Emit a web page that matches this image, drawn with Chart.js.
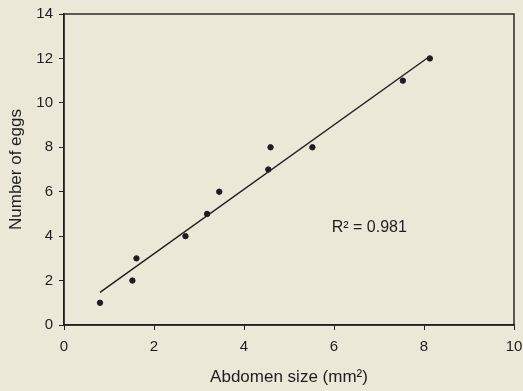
<!DOCTYPE html>
<html><head><meta charset="utf-8">
<script src="https://cdn.jsdelivr.net/npm/chart.js@4/dist/chart.umd.min.js"></script>
<style>html,body{margin:0;padding:0;background:#ebe8d8;}#wrap{width:523px;height:391px;}</style>
</head><body><div id="wrap"><canvas id="c" width="523" height="391"></canvas></div>
<script>
const abdomenSize = [0.8, 1.52, 1.61, 2.70, 3.18, 3.45, 4.54, 4.59, 5.52, 7.53, 8.13];
const eggCount    = [1, 2, 3, 4, 5, 6, 7, 8, 8, 11, 12];
const fitX = [0.8, 8.13];
const fitY = [1.47, 12.1];
const xTicks = [0, 2, 4, 6, 8, 10];
const yTicks = [0, 2, 4, 6, 8, 10, 12, 14];
const rSquaredLabel = "R² = 0.981";
const rLabelPos = [5.95, 4.4];

const ink = '#1e1e1e';
const FONT = "'Liberation Sans', Arial, sans-serif";

const bgPlugin = {
  id: 'bg',
  beforeDraw(chart) {
    const ctx = chart.ctx;
    ctx.save();
    ctx.fillStyle = '#ebe8d8';
    ctx.fillRect(0, 0, chart.width, chart.height);
    ctx.restore();
  },
  afterDatasetsDraw(chart) {
    const {ctx, chartArea: a, scales} = chart;
    ctx.save();
    ctx.strokeStyle = ink;
    ctx.lineWidth = 1.4;
    ctx.strokeRect(a.left, a.top, a.right - a.left, a.bottom - a.top);
    ctx.fillStyle = ink;
    ctx.font = "16px " + FONT;
    ctx.textAlign = 'left';
    ctx.textBaseline = 'middle';
    ctx.fillText(rSquaredLabel, scales.x.getPixelForValue(rLabelPos[0]), scales.y.getPixelForValue(rLabelPos[1]));
    ctx.restore();
  }
};

new Chart(document.getElementById('c'), {
  type: 'scatter',
  data: {
    datasets: [
      {
        data: abdomenSize.map((x, i) => ({x, y: eggCount[i]})),
        backgroundColor: ink, borderColor: ink,
        pointRadius: 2.7, pointHoverRadius: 2.7, showLine: false
      },
      {
        data: fitX.map((x, i) => ({x, y: fitY[i]})),
        showLine: true, borderColor: ink, borderWidth: 1.4,
        pointRadius: 0, fill: false
      }
    ]
  },
  options: {
    responsive: false,
    animation: false,
    events: [],
    layout: {padding: {left: 0, right: 9, top: 14, bottom: 0}},
    plugins: {legend: {display: false}, tooltip: {enabled: false}},
    scales: {
      x: {
        type: 'linear', min: 0, max: 10,
        afterBuildTicks(s) { s.ticks = xTicks.map(v => ({value: v})); },
        afterFit(s) { s.height = 66; s.paddingLeft = 0; s.paddingRight = 0; },
        grid: {drawOnChartArea: false, tickLength: 5, color: ink, lineWidth: 1},
        border: {color: ink, width: 1.4},
        ticks: {color: ink, font: {family: FONT, size: 15}, padding: 8, maxRotation: 0},
        title: {display: true, text: 'Abdomen size (mm²)', color: ink, font: {family: FONT, size: 17}, padding: {top: 0, bottom: 3}}
      },
      y: {
        type: 'linear', min: 0, max: 14,
        afterBuildTicks(s) { s.ticks = yTicks.map(v => ({value: v})); },
        afterFit(s) { s.width = 64; s.paddingTop = 0; s.paddingBottom = 0; },
        grid: {drawOnChartArea: false, tickLength: 5, color: ink, lineWidth: 1},
        border: {color: ink, width: 1.4},
        ticks: {color: ink, font: {family: FONT, size: 15}, padding: 6},
        title: {display: true, text: 'Number of eggs', color: ink, font: {family: FONT, size: 17}, padding: {top: 6, bottom: 0}}
      }
    }
  },
  plugins: [bgPlugin]
});
</script>
</body></html>
